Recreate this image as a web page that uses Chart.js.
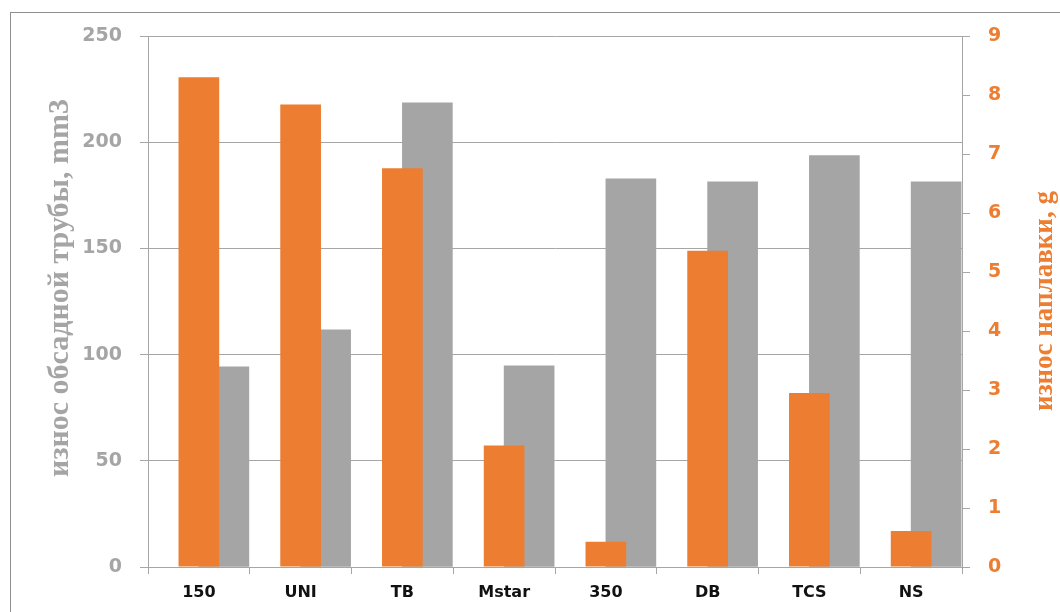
<!DOCTYPE html>
<html>
<head>
<meta charset="utf-8">
<script src="https://cdn.jsdelivr.net/npm/chart.js@4/dist/chart.umd.min.js"></script>
<style>
  html, body { margin: 0; padding: 0; background: #ffffff; }
  #wrap { width: 1060px; height: 612px; position: relative; }
</style>
</head>
<body>
<div id="wrap"><canvas id="c" width="1060" height="612"></canvas></div>
<script>
const categories = ['150', 'UNI', 'TB', 'Mstar', '350', 'DB', 'TCS', 'NS'];
const casingWear = [94.3, 111.7, 218.5, 94.7, 182.7, 181.3, 193.7, 181.4];   // износ обсадной трубы, mm3 (left axis)
const hardbandWear = [8.30, 7.84, 6.76, 2.06, 0.43, 5.36, 2.95, 0.61];       // износ наплавки, g (right axis)
const spacer = [0, 0, 0, 0, 0, 0, 0, 0];
const leftTitle = 'износ обсадной трубы, mm3';
const rightTitle = 'износ наплавки, g';

const ORANGE = '#ED7D31';
const GRAY = '#A5A5A5';
const LINE = '#A6A6A6';

const decor = {
  id: 'decor',
  afterDraw(chart) {
    const ctx = chart.ctx;
    ctx.save();
    ctx.strokeStyle = '#8f8f8f';
    ctx.lineWidth = 1;
    ctx.strokeRect(10.5, 12.5, 1200, 800);
    ctx.textAlign = 'center';
    ctx.textBaseline = 'alphabetic';
    ctx.font = 'bold 30px "Liberation Serif"';
    ctx.fillStyle = GRAY;
    ctx.save();
    ctx.translate(68, 288);
    ctx.rotate(-Math.PI / 2);
    ctx.fillText(leftTitle, 0, 0);
    ctx.restore();
    ctx.font = 'bold 27px "Liberation Serif"';
    ctx.fillStyle = ORANGE;
    ctx.save();
    ctx.translate(1052, 301);
    ctx.rotate(-Math.PI / 2);
    ctx.fillText(rightTitle, 0, 0);
    ctx.restore();
    ctx.restore();
  }
};

new Chart(document.getElementById('c'), {
  type: 'bar',
  data: {
    labels: categories,
    datasets: [
      { label: rightTitle, data: hardbandWear, yAxisID: 'y1', backgroundColor: ORANGE,
        grouped: false, categoryPercentage: 1, barPercentage: 0.40, borderWidth: 0 },
      { label: '', data: spacer, yAxisID: 'y', backgroundColor: 'rgba(0,0,0,0)',
        grouped: true, barThickness: 50, borderWidth: 0 },
      { label: leftTitle, data: casingWear, yAxisID: 'y', backgroundColor: GRAY,
        grouped: true, barThickness: 50, borderWidth: 0 }
    ]
  },
  options: {
    responsive: false,
    animation: false,
    layout: { padding: { left: 0, top: 36, right: 0, bottom: 0 } },
    plugins: { legend: { display: false }, tooltip: { enabled: false }, title: { display: false } },
    scales: {
      x: {
        offset: true,
        grid: { display: true, drawOnChartArea: false, offset: true, color: LINE, tickLength: 7 },
        border: { display: true, color: LINE },
        ticks: { color: '#111111', font: { family: 'DejaVu Sans', size: 16, weight: 'bold' }, padding: 9, maxRotation: 0 },
        afterFit(s) { s.height = 45; }
      },
      y: {
        position: 'left',
        min: 0, max: 250,
        ticks: { stepSize: 50, color: GRAY, font: { family: 'DejaVu Sans', size: 19, weight: 'bold' }, padding: 18 },
        grid: { color: LINE, tickLength: 8 },
        border: { display: true, color: LINE },
        afterFit(s) { s.width = 148; }
      },
      y1: {
        position: 'right',
        min: 0, max: 9,
        ticks: { stepSize: 1, color: ORANGE, font: { family: 'DejaVu Sans', size: 19, weight: 'bold' }, padding: 18 },
        grid: { drawOnChartArea: false, color: LINE, tickLength: 8 },
        border: { display: true, color: LINE },
        afterFit(s) { s.width = 98; }
      }
    }
  },
  plugins: [decor]
});
</script>
</body>
</html>
